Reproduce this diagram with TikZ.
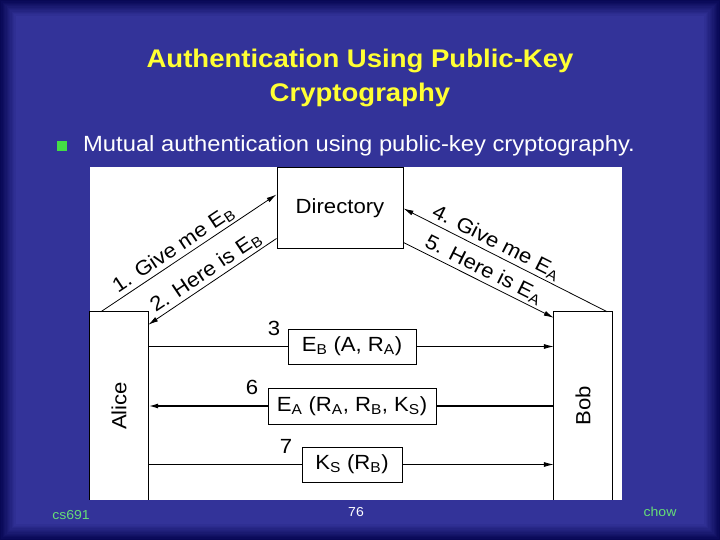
\documentclass[tikz,border=0pt]{standalone}
\usepackage{fontspec}
\setmainfont[FakeStretch=1.08]{Liberation Sans}
\usetikzlibrary{arrows.meta,positioning}

\definecolor{slideblue}{RGB}{51,51,153}
\definecolor{edgeblue}{RGB}{8,8,85}
\definecolor{titleyellow}{RGB}{255,255,51}
\definecolor{bulletgreen}{RGB}{68,221,68}
\definecolor{footgreen}{RGB}{102,221,119}

\newcommand{\diagfont}{\fontsize{20.5}{24}\selectfont}
\newcommand{\low}[1]{\textsubscript{#1}}

\begin{document}
\begin{tikzpicture}[x=1pt,y=-1pt,>={Latex[length=10pt,width=5pt]},
    party/.style={minimum width=58pt,minimum height=188pt,inner sep=0pt,font=\diagfont},
    msgbox/.style={draw,line width=1pt,fill=white,minimum height=35pt,inner sep=0pt,font=\diagfont},
    msg/.style={font=\diagfont,sloped,above,inner sep=2pt},
    num/.style={font=\diagfont,inner sep=0pt},
    link/.style={line width=0.8pt},
    foot/.style={font=\fontsize{13}{15}\selectfont,inner sep=0pt}]

    % slide background
    \fill[edgeblue] (0,0) rectangle (720,540);
    \foreach \i [evaluate=\i as \mix using int(\i*100/12)] in {1,...,12}
        \fill[slideblue!\mix!edgeblue] (1.3*\i,1.3*\i) rectangle (720-1.3*\i,540-1.3*\i);
    \fill[white] (90,167) rectangle (622,500);

    % title and bullet
    \node[font=\fontsize{25.5}{34}\selectfont\bfseries,text=titleyellow,align=center,
        inner sep=0pt,anchor=north] (title) at (360,49) {Authentication Using Public-Key\\Cryptography};
    \node[fill=bulletgreen,minimum size=10pt,inner sep=0pt] (bullet) at (62,146) {};
    \node[font=\fontsize{22}{26}\selectfont,text=white,inner sep=0pt,anchor=base west] (point) at (83,152)
        {Mutual authentication using public-key cryptography.};

    % parties
    \node[party] (alice) at (119,406) {\rotatebox{90}{Alice}};
    \node[party] (bob) at (583,406) {\rotatebox{90}{Bob}};
    \draw[link] (alice.south west) -- (alice.north west) -- (alice.north east) -- (alice.south east);
    \draw[link] (bob.south west) -- (bob.north west) -- (bob.north east) -- (bob.south east);
    \node[msgbox,minimum width=126pt,minimum height=80pt] (dir) at (340,208) {Directory};

    % messages
    \node[msgbox,minimum width=128pt] (m3) at (352,346.5) {E\low{B} (A, R\low{A})};
    \node[msgbox,minimum width=168pt,minimum height=36pt] (m6) at (352,406)
        {E\low{A} (R\low{A}, R\low{B}, K\low{S})};
    \node[msgbox,minimum width=100pt] (m7) at (352,464.5) {K\low{S} (R\low{B})};
    \node[num,left=7pt of m3.north west] (n3) {3};
    \node[num,left=9pt of m6.north west] (n6) {6};
    \node[num,left=9pt of m7.north west] (n7) {7};

    \draw[link,->] ([xshift=11pt]alice.north west) -- node[msg,pos=0.45] {1. Give me E\low{B}} ([yshift=-27pt]dir.north west);
    \draw[link,->] ([yshift=10pt]dir.south west) -- node[msg] {2. Here is E\low{B}} ([yshift=-13pt]alice.north east);
    \draw[link,->] ([xshift=-5pt]bob.north east) -- node[msg,pos=0.57] {4. Give me E\low{A}} ([yshift=-41pt]dir.north east);
    \draw[link,->] ([yshift=6pt]dir.south east) -- node[msg] {5. Here is E\low{A}} ([yshift=-6pt]bob.north west);

    \draw[link] (alice.east |- m3.west) -- (m3.west);
    \draw[link,->] (m3.east) -- (bob.west |- m3.east);
    \draw[link,line width=1.6pt] (bob.west |- m6.east) -- (m6.east);
    \draw[link,line width=1.6pt,->] (m6.west) -- (alice.east |- m6.west);
    \draw[link] (alice.east |- m7.west) -- (m7.west);
    \draw[link,->] (m7.east) -- (bob.west |- m7.east);

    % footer
    \node[foot,text=footgreen] (course) at (71,515) {cs691};
    \node[foot,text=white] (page) at (356,512.5) {76};
    \node[foot,text=footgreen] (author) at (660,511.5) {chow};
\end{tikzpicture}
\end{document}
